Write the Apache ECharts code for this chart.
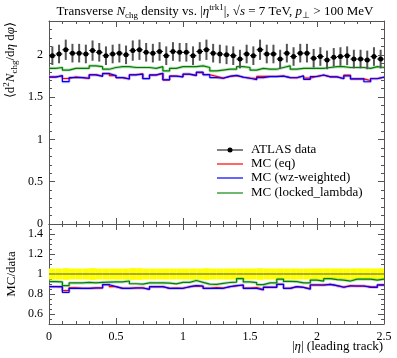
<!DOCTYPE html>
<html><head><meta charset="utf-8">
<script src="https://cdn.jsdelivr.net/npm/echarts@6/dist/echarts.min.js"></script>
<style>html,body{margin:0;padding:0;background:#fff}#c{width:397px;height:358px}</style>
</head><body><div id="c"></div>
<script>
// ---- data ----
const binStart = 0, binWidth = 0.05, nBins = 50;
const atlasData = [1.99,2.01,2.06,2.02,2.02,2.01,2.05,2.03,1.99,2.01,2.02,2.00,2.05,2.06,2.03,2.02,2.04,1.99,2.04,2.03,
                   2.03,1.99,2.04,2.06,2.02,2.01,2.00,1.99,1.95,2.01,1.99,2.06,2.01,2.01,1.95,2.02,1.98,2.02,2.02,1.96,
                   1.98,1.94,1.97,1.98,1.99,1.95,1.95,1.94,1.98,1.95];
const atlasErr  = [0.11,0.11,0.12,0.11,0.11,0.11,0.12,0.11,0.11,0.11,0.11,0.11,0.12,0.12,0.11,0.11,0.11,0.11,0.11,0.11,
                   0.11,0.11,0.11,0.12,0.11,0.11,0.11,0.11,0.11,0.11,0.11,0.12,0.11,0.11,0.11,0.11,0.11,0.11,0.11,0.11,
                   0.11,0.11,0.11,0.11,0.11,0.11,0.11,0.11,0.11,0.11];
const mcEq      = [1.74,1.75,1.72,1.74,1.73,1.72,1.765,1.75,1.78,1.755,1.73,1.715,1.765,1.775,1.72,1.76,1.78,1.705,1.75,1.74,
                   1.77,1.755,1.79,1.765,1.745,1.725,1.745,1.755,1.735,1.725,1.72,1.745,1.745,1.745,1.75,1.73,1.73,1.75,1.725,1.745,
                   1.76,1.74,1.74,1.72,1.76,1.715,1.715,1.695,1.72,1.735];
const mcWz      = [1.737,1.755,1.683,1.731,1.731,1.723,1.763,1.746,1.777,1.755,1.731,1.714,1.763,1.772,1.719,1.763,1.781,1.705,1.748,1.74,
                   1.772,1.757,1.795,1.765,1.731,1.723,1.746,1.757,1.736,1.723,1.705,1.73,1.743,1.743,1.749,1.731,1.729,1.751,1.711,1.744,
                   1.762,1.74,1.74,1.717,1.751,1.716,1.716,1.682,1.717,1.736];
const mcLocked  = [1.84,1.85,1.82,1.84,1.84,1.84,1.87,1.86,1.83,1.85,1.86,1.86,1.85,1.85,1.85,1.84,1.86,1.81,1.84,1.86,
                   1.86,1.86,1.87,1.85,1.81,1.82,1.83,1.83,1.86,1.85,1.82,1.84,1.83,1.83,1.85,1.87,1.83,1.84,1.84,1.84,
                   1.84,1.85,1.86,1.86,1.85,1.85,1.85,1.84,1.86,1.85];
const xTicks = [0, 0.5, 1, 1.5, 2, 2.5];
const yTicksMain = [0, 0.5, 1, 1.5, 2];
const yTicksRatio = [0.6, 0.8, 1, 1.2, 1.4];

// ---- helpers ----
const lo = i => binStart + i * binWidth;
function stepPts(vals, ref) {
  const p = [];
  vals.forEach((v, i) => { const y = ref ? v / ref[i] : v; p.push([lo(i), y], [lo(i + 1), y]); });
  return p;
}
const FONT = 'Liberation Serif';
const AX = '#555';
function xAxisDef(grid, pos, labels) {
  return { type:'value', gridIndex:grid, position:pos, min:0, max:2.5, interval:0.5,
    axisLine:{show:true, onZero:false, lineStyle:{color:AX, width:1}},
    axisTick:{show:true, inside:true, length:6, lineStyle:{color:AX}},
    minorTick:{show:true, splitNumber:5, length:3, lineStyle:{color:AX}},
    splitLine:{show:false},
    axisLabel:{show:labels, margin:7, color:'#000', fontFamily:FONT, fontSize:12, formatter: v => String(v)} };
}
function yAxisDef(grid, pos, min, max, interval, len, labelVals, showLine, tickVals) {
  const a = { type:'value', gridIndex:grid, position:pos, min:min, max:max, interval:interval,
    axisLine:{show:showLine, onZero:false, lineStyle:{color:AX, width:1}},
    axisTick:{show:true, inside:true, length:len, lineStyle:{color:AX}},
    splitLine:{show:false},
    axisLabel:{show:!!labelVals, margin:6, color:'#000', fontFamily:FONT, fontSize:12,
      formatter: v => String(+v.toFixed(2))} };
  if (labelVals) a.axisLabel.customValues = labelVals;
  if (tickVals) a.axisTick.customValues = tickVals;
  return a;
}
const G0 = {left:49, top:21, width:335, height:203};
const G1 = {left:49, top:224, width:335, height:100};

const dataItems = atlasData.map((v, i) => [lo(i) + binWidth/2, v, atlasErr[i], lo(i), lo(i+1)]);
const bandItems = atlasData.map((v, i) => [lo(i), lo(i+1), 1 - atlasErr[i]/v, 1 + atlasErr[i]/v]);

function mcSeries(name, vals, color, light, xi, yi, ref) {
  return [
    {type:'line', xAxisIndex:xi, yAxisIndex:yi, data:stepPts(vals, ref), showSymbol:false, symbol:'none',
     lineStyle:{color:light, width:3, opacity:0.5}, silent:true, animation:false, z:2},
    {type:'line', name:name, xAxisIndex:xi, yAxisIndex:yi, data:stepPts(vals, ref), showSymbol:false, symbol:'none',
     lineStyle:{color:color, width:1.2}, silent:true, animation:false, z:3}
  ];
}

const chart = echarts.init(document.getElementById('c'), null, {renderer:'canvas'});
const RICH = {
  r:{fontFamily:FONT, fontSize:13, lineHeight:17, verticalAlign:'middle', fill:'#000'},
  i:{fontFamily:FONT, fontSize:13, lineHeight:17, verticalAlign:'middle', fill:'#000', fontStyle:'italic'},
  s:{fontFamily:FONT, fontSize:9, lineHeight:9, verticalAlign:'bottom', fill:'#000'},
  p:{fontFamily:FONT, fontSize:9, lineHeight:9, verticalAlign:'top', fill:'#000'}
};
const option = {
  animation:false,
  grid:[G0, G1, G0, G1],
  xAxis:[
    xAxisDef(0,'bottom',false), xAxisDef(0,'top',false),
    xAxisDef(1,'bottom',true), xAxisDef(1,'top',false),
    {type:'value', gridIndex:2, min:0, max:2.5, show:false},
    {type:'value', gridIndex:3, min:0, max:2.5, show:false}
  ],
  yAxis:[
    yAxisDef(0,'left',0,2.4,0.1,3,yTicksMain,true),
    yAxisDef(0,'right',0,2.4,0.1,3,null,true),
    yAxisDef(1,'left',0.5,1.5,0.05,3,yTicksRatio,true),
    yAxisDef(1,'right',0.5,1.5,0.05,3,null,true),
    yAxisDef(2,'left',0,2.4,0.1,6,null,false,yTicksMain),
    yAxisDef(2,'right',0,2.4,0.1,6,null,false,yTicksMain),
    yAxisDef(3,'left',0.5,1.5,0.05,6,null,false,yTicksRatio),
    yAxisDef(3,'right',0.5,1.5,0.05,6,null,false,yTicksRatio)
  ],
  series:[
    {type:'custom', xAxisIndex:2, yAxisIndex:2, data:bandItems, silent:true, z:1,
     renderItem:(params, api) => {
       const p0 = api.coord([api.value(0), api.value(3)]);
       const p1 = api.coord([api.value(1), api.value(2)]);
       return {type:'rect', shape:{x:p0[0], y:p0[1], width:p1[0]-p0[0], height:p1[1]-p0[1]},
               style:{fill:'#ffff00'}};
     }},
    {type:'line', xAxisIndex:2, yAxisIndex:2, data:stepPts(atlasData, atlasData), symbol:'none',
     lineStyle:{color:'#555', width:1}, silent:true, z:2},
    ...mcSeries('MC (eq)', mcEq, '#ff0000', '#ffa0a0', 0, 0),
    ...mcSeries('MC (wz-weighted)', mcWz, '#0000ff', '#a0a0ff', 0, 0),
    ...mcSeries('MC (locked_lambda)', mcLocked, '#008000', '#80c080', 0, 0),
    ...mcSeries('r eq', mcEq, '#ff0000', '#ffa0a0', 2, 2, atlasData),
    ...mcSeries('r wz', mcWz, '#0000ff', '#a0a0ff', 2, 2, atlasData),
    ...mcSeries('r locked', mcLocked, '#008000', '#80c080', 2, 2, atlasData),
    {type:'custom', xAxisIndex:0, yAxisIndex:0, data:dataItems, silent:true, z:10,
     renderItem:(params, api) => {
       const c = api.coord([api.value(0), api.value(1)]);
       const up = api.coord([api.value(0), api.value(1) + api.value(2)]);
       const dn = api.coord([api.value(0), api.value(1) - api.value(2)]);
       const l = api.coord([api.value(3), api.value(1)]);
       const r = api.coord([api.value(4), api.value(1)]);
       return {type:'group', children:[
         {type:'line', shape:{x1:c[0], y1:up[1], x2:c[0], y2:dn[1]}, style:{stroke:'#555', lineWidth:2}},
         {type:'line', shape:{x1:l[0], y1:c[1], x2:r[0], y2:c[1]}, style:{stroke:'#000', lineWidth:1}},
         {type:'circle', shape:{cx:c[0], cy:c[1], r:2.5}, style:{fill:'#000'}}
       ]};
     }}
  ],
  graphic:[
    {type:'text', x:215, y:12, style:{
      text:'{r|Transverse }{i|N}{s|chg}{r| density vs. |}{i|η}{p|trk1}{r||, √}{i|s}{r| = 7 TeV, }{i|p}{s|⊥}{r| > 100 MeV}',
      align:'center', verticalAlign:'middle', rich:RICH}},
    {type:'text', x:11, y:22, rotation:Math.PI/2, style:{
      text:'{r|⟨d}{p|2}{i|N}{s|chg}{r|/d}{i|η}{r| d}{i|φ}{r|⟩}',
      align:'right', verticalAlign:'middle', rich:RICH}},
    {type:'text', x:12, y:274, rotation:Math.PI/2, style:{text:'MC/data', font:'13px "Liberation Serif"', fill:'#000',
      align:'center', verticalAlign:'middle'}},
    {type:'text', x:383, y:347, style:{text:'{r||}{i|η}{r|| (leading track)}', align:'right', verticalAlign:'middle', rich:RICH}},
    {type:'line', shape:{x1:217, y1:150, x2:243, y2:150}, style:{stroke:'#000', lineWidth:1}},
    {type:'circle', shape:{cx:230, cy:150, r:2.5}, style:{fill:'#000'}},
    {type:'text', x:251, y:150, style:{text:'ATLAS data', font:'13px "Liberation Serif"', fill:'#000', verticalAlign:'middle'}},
    {type:'line', shape:{x1:217, y1:164, x2:243, y2:164}, style:{stroke:'#ff0000', lineWidth:1.2}},
    {type:'text', x:251, y:164, style:{text:'MC (eq)', font:'13px "Liberation Serif"', fill:'#000', verticalAlign:'middle'}},
    {type:'line', shape:{x1:217, y1:178, x2:243, y2:178}, style:{stroke:'#0000ff', lineWidth:1.2}},
    {type:'text', x:251, y:178, style:{text:'MC (wz-weighted)', font:'13px "Liberation Serif"', fill:'#000', verticalAlign:'middle'}},
    {type:'line', shape:{x1:217, y1:193, x2:243, y2:193}, style:{stroke:'#70b870', lineWidth:2}},
    {type:'text', x:251, y:193, style:{text:'MC (locked_lambda)', font:'13px "Liberation Serif"', fill:'#000', verticalAlign:'middle'}}
  ]
};
chart.setOption(option);
</script></body></html>
